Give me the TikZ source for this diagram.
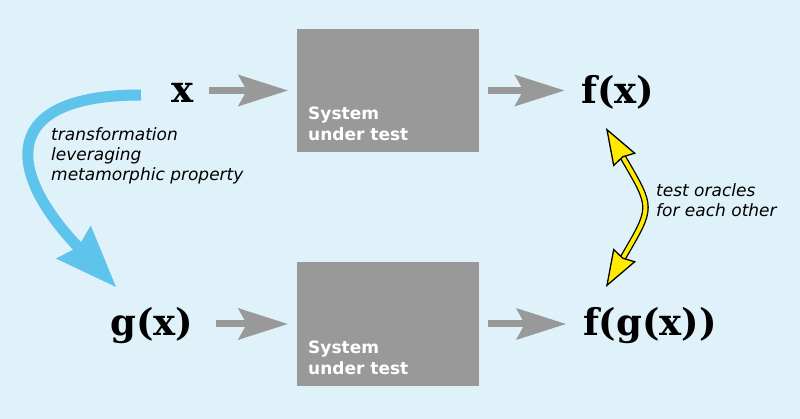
\documentclass[tikz,border=0pt]{standalone}
\usepackage{fontspec}
\setmainfont{DejaVu Serif}
\setsansfont{DejaVu Sans}
\usetikzlibrary{arrows.meta}

\begin{document}
\begin{tikzpicture}[x=1pt, y=-1pt,
    every node/.style={inner sep=0pt},
    expr/.style={font=\fontsize{37}{42}\selectfont\bfseries, anchor=base},
    sutbox/.style={fill=boxgray, minimum width=182pt, minimum height=123pt},
    sutlabel/.style={font=\sffamily\bfseries\fontsize{17}{21}\selectfont,
      text=white, align=left, anchor=base west},
    note/.style={font=\sffamily\itshape\fontsize{17}{20}\selectfont,
      align=left, anchor=base west},
    flow/.style={draw=boxgray, line width=7pt,
      -{Stealth[length=50pt, width=32pt, inset=9pt, line width=0pt]}},
    transf/.style={draw=transfblue, line width=11pt,
      -{Stealth[length=62pt, width=48pt, inset=7pt, line width=0pt]}},
    oracle/.style={draw=black, line width=1.3pt, double=oracleyellow,
      double distance=4pt,
      {Stealth[length=37pt, width=26pt, inset=3pt, line width=1.3pt, fill=oracleyellow]}-{Stealth[length=37pt, width=26pt, inset=3pt, line width=1.3pt, fill=oracleyellow]}}
  ]

  % colores
  \definecolor{bgblue}{RGB}{223,242,249}
  \definecolor{boxgray}{RGB}{153,153,153}
  \definecolor{transfblue}{RGB}{94,196,236}
  \definecolor{oracleyellow}{RGB}{255,234,0}

  % fondo
  \fill[bgblue] (0,0) rectangle (800,419);
  \useasboundingbox (0,0) rectangle (800,419);

  % --- Fila superior: entrada original ---
  \node[expr] (x) at (183,103) {x};
  \node[sutbox] (sut1) at (388,90.5) {};
  \node[sutlabel] (sut1lbl) at (308,141) {System\\under test};
  \node[expr] (fx) at (618,104) {f(x)};

  % --- Fila inferior: entrada transformada ---
  \node[expr] (gx) at (152,335) {g(x)};
  \node[sutbox, minimum height=124pt] (sut2) at (388,324) {};
  \node[sutlabel] (sut2lbl) at (308,374) {System\\under test};
  \node[expr] (fgx) at (650,336) {f(g(x))};

  % flechas grises
  \draw[flow, shorten <=15pt, shorten >=9pt] (x.east |- sut1) -- (sut1.west);
  \draw[flow, shorten <=9pt, shorten >=17pt] (sut1.east) -- (fx.west |- sut1);
  \draw[flow, shorten <=22pt, shorten >=9pt] (gx.east |- sut2) -- (sut2.west);
  \draw[flow, shorten <=9pt, shorten >=17pt] (sut2.east) -- (fgx.west |- sut2);

  % --- Transformación (flecha azul) ---
  \coordinate (trstart) at (141,95);
  \coordinate (trend) at (116,287);
  \draw[transf] (trstart) .. controls +(-141,0) and +(-111,-117) .. (trend);
  \node[note] (trlbl) at (51,181) {transformation\\leveraging\\metamorphic property};

  % --- Oráculos (flecha amarilla) ---
  \coordinate (orctop) at (606,128);
  \coordinate (orcbot) at (606,287);
  \draw[oracle] (orctop) .. controls +(47,81) and +(47,-81) .. (orcbot);
  \node[note] (orclbl) at (656,217) {test oracles\\for each other};

\end{tikzpicture}
\end{document}
